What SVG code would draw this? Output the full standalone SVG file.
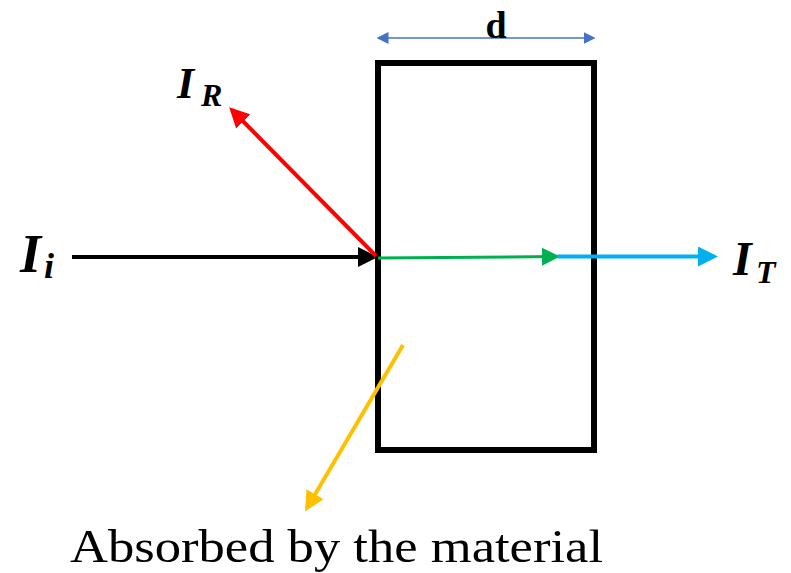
<svg xmlns="http://www.w3.org/2000/svg" width="791" height="573" viewBox="0 0 791 573">
<defs>
<marker id="ab" markerWidth="5" markerHeight="5" refX="4" refY="2.5" orient="auto" markerUnits="strokeWidth"><path d="M0,0 L5,2.5 L0,5 Z" fill="#000"/></marker>
<marker id="ar" markerWidth="5" markerHeight="5" refX="4" refY="2.5" orient="auto" markerUnits="strokeWidth"><path d="M0,0 L5,2.5 L0,5 Z" fill="#FF0000"/></marker>
<marker id="ag" markerWidth="6" markerHeight="6" refX="5" refY="3" orient="auto" markerUnits="strokeWidth"><path d="M0,0 L6,3 L0,6 Z" fill="#00B050"/></marker>
<marker id="ac" markerWidth="5" markerHeight="5" refX="4" refY="2.5" orient="auto" markerUnits="strokeWidth"><path d="M0,0 L5,2.5 L0,5 Z" fill="#00B0F0"/></marker>
<marker id="ay" markerWidth="5" markerHeight="5" refX="4" refY="2.5" orient="auto" markerUnits="strokeWidth"><path d="M0,0 L5,2.5 L0,5 Z" fill="#FFC000"/></marker>
<marker id="ad" markerWidth="8" markerHeight="8" refX="7" refY="4" orient="auto-start-reverse" markerUnits="strokeWidth"><path d="M0,0 L8,4 L0,8 Z" fill="#4472C4"/></marker>
</defs>
<g id="slab"><rect x="378" y="63" width="216" height="387" fill="none" stroke="#000" stroke-width="6"/></g>
<g id="connectors" fill="none">
<line x1="378" y1="38" x2="594" y2="38" stroke="#4472C4" stroke-width="1.5" marker-start="url(#ad)" marker-end="url(#ad)"/>
<line x1="72" y1="257" x2="374" y2="257" stroke="#000" stroke-width="4" marker-end="url(#ab)"/>
<line x1="376" y1="256" x2="232" y2="110" stroke="#FF0000" stroke-width="4" marker-end="url(#ar)"/>
<line x1="378" y1="258" x2="557" y2="256.5" stroke="#00B050" stroke-width="3" marker-end="url(#ag)"/>
<line x1="557" y1="256.5" x2="714" y2="256.5" stroke="#00B0F0" stroke-width="4" marker-end="url(#ac)"/>
<line x1="403" y1="345" x2="307" y2="508" stroke="#FFC000" stroke-width="4" marker-end="url(#ay)"/>
</g>
<g font-family="Liberation Serif, serif" fill="#000">
<g id="label-d"><text x="496" y="38" font-size="38" font-weight="bold" text-anchor="middle">d</text></g>
<g id="label-Ii" font-weight="bold" font-style="italic"><text x="20" y="272" font-size="54">I</text><text x="44" y="278" font-size="36">i</text></g>
<g id="label-IR" font-weight="bold" font-style="italic"><text x="177" y="98" font-size="44">I</text><text x="201" y="106" font-size="32">R</text></g>
<g id="label-IT" font-weight="bold" font-style="italic"><text x="733" y="275" font-size="48">I</text><text x="756" y="283" font-size="32">T</text></g>
<g id="label-abs"><text x="70" y="562" font-size="46" textLength="533" lengthAdjust="spacingAndGlyphs">Absorbed by the material</text></g>
</g>
</svg>
